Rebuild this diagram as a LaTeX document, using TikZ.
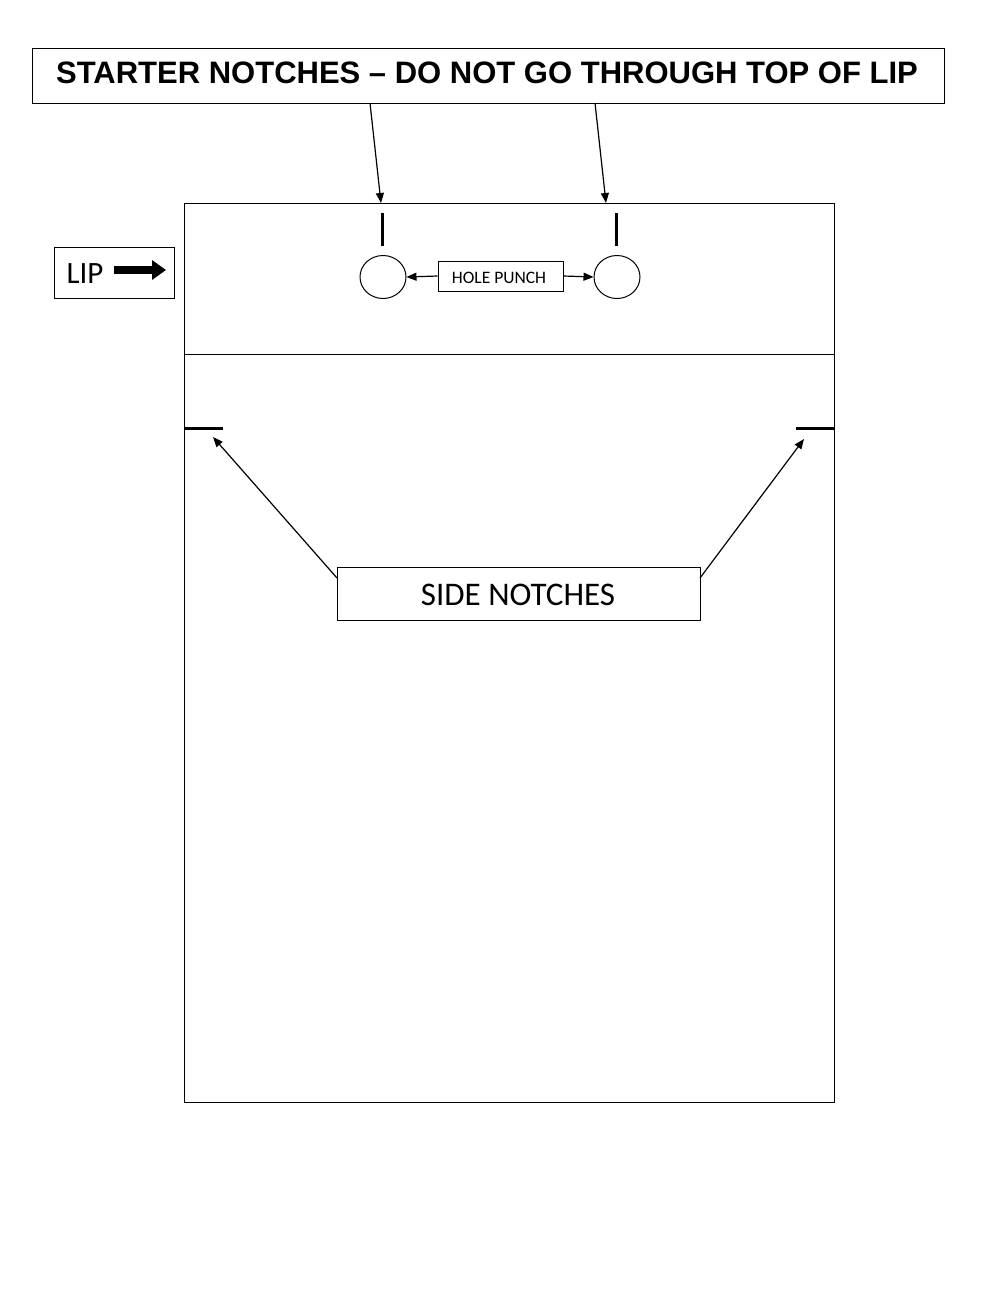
\documentclass[tikz,border=0pt]{standalone}
\usepackage{fontspec}
\setmainfont{Carlito}
\newfontfamily\arialfont{Liberation Sans}
\usetikzlibrary{arrows.meta,shapes.geometric}
\begin{document}
\begin{tikzpicture}[x=1pt,y=-1pt,
  thinline/.style={draw=black,line width=1pt},
  box/.style={thinline,inner sep=0pt,outer sep=0pt,anchor=north west},
  notch/.style={line width=3pt},
  conn/.style={line width=1.2pt,-{Triangle[length=10pt,width=8pt]}},
  hole/.style={thinline,ellipse,minimum width=46pt,minimum height=43pt,inner sep=0pt},
]
\useasboundingbox (0,0) rectangle (1000,1294);
% title
\node[box,minimum width=912pt,minimum height=55pt] (title) at (32,48) {};
\node[font=\arialfont\bfseries\fontsize{31}{33}\selectfont] (titletext) at (487,73) {STARTER NOTCHES – DO NOT GO THROUGH TOP OF LIP};
% main sheet
\node[box,minimum width=650pt,minimum height=899pt] (sheet) at (184,203) {};
\coordinate (lipL) at (184,354);
\coordinate (lipR) at (834,354);
\draw[thinline] (lipL) -- (lipR);
% LIP box
\node[box,minimum width=120pt,minimum height=51pt] (lipbox) at (54,247) {};
\node[font=\fontsize{31}{33}\selectfont,anchor=west] (liptext) at (63,274) {LIP};
\coordinate (lipArrS) at (114,270);
\coordinate (lipArrE) at (166,270);
\draw[line width=8pt,-{Triangle[length=14pt,width=19pt]}] (lipArrS) -- (lipArrE);
% starter notches
\coordinate (n1t) at (382,213); \coordinate (n1b) at (382,246);
\coordinate (n2t) at (616,213); \coordinate (n2b) at (616,246);
\draw[notch] (n1t) -- (n1b);
\draw[notch] (n2t) -- (n2b);
% circles
\node[hole] (c1) at (383,277) {};
\node[hole] (c2) at (617,277) {};
% hole punch box
\node[thinline,minimum width=125pt,minimum height=30pt,inner sep=0pt] (hp) at (500.5,276) {};
\node[font=\fontsize{17.5}{18}\selectfont] (hptext) at (499,278) {HOLE PUNCH};
\draw[conn] (hp.west) -- (c1.east);
\draw[conn] (hp.east) -- (c2.west);
% title arrows
\coordinate (ta1) at (370,103); \coordinate (tb1) at (381,203);
\coordinate (ta2) at (595,103); \coordinate (tb2) at (606,203);
\draw[conn] (ta1) -- (tb1);
\draw[conn] (ta2) -- (tb2);
% side notches
\coordinate (s1a) at (184,428); \coordinate (s1b) at (223,428);
\coordinate (s2a) at (796,428); \coordinate (s2b) at (834,428);
\draw[notch] (s1a) -- (s1b);
\draw[notch] (s2a) -- (s2b);
% side notches label
\node[thinline,minimum width=363pt,minimum height=53pt,inner sep=0pt] (sn) at (518.5,593.5) {};
\node[font=\fontsize{33}{35}\selectfont] (sntext) at (518,595) {SIDE NOTCHES};
\coordinate (sn1) at (337,578); \coordinate (snt1) at (213,437);
\coordinate (sn2) at (700,578); \coordinate (snt2) at (804,439);
\draw[conn] (sn1) -- (snt1);
\draw[conn] (sn2) -- (snt2);
\end{tikzpicture}
\end{document}
